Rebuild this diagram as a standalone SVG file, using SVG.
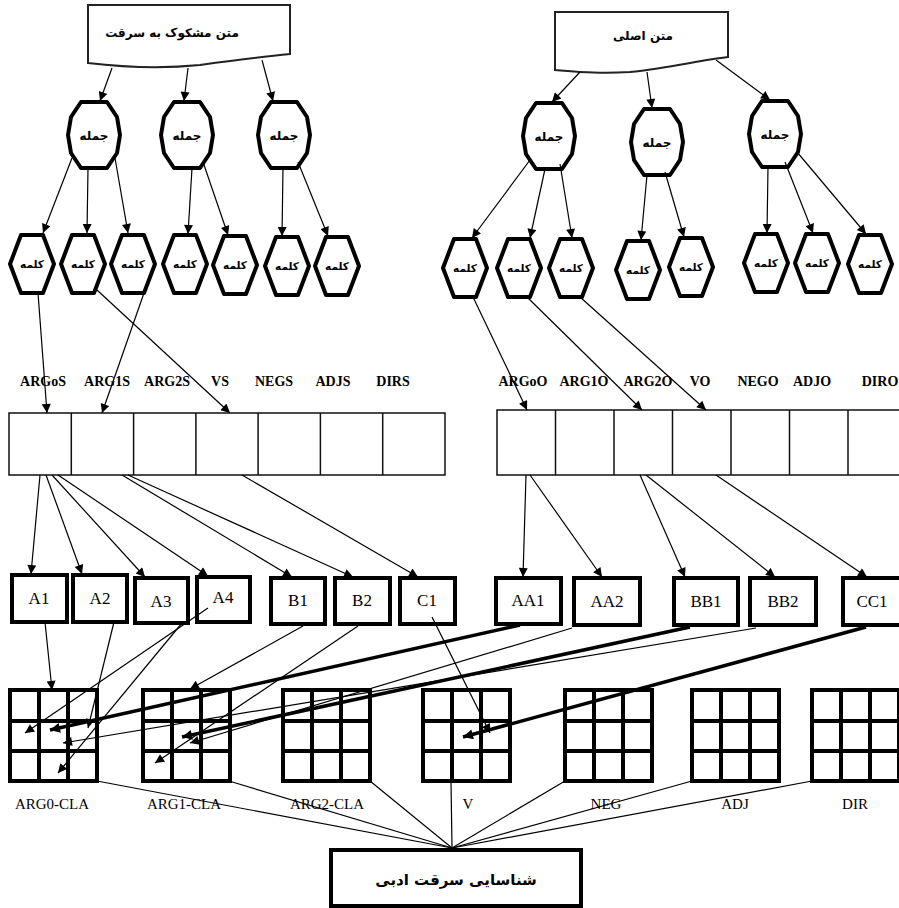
<svg xmlns="http://www.w3.org/2000/svg" xmlns:xlink="http://www.w3.org/1999/xlink" width="899" height="908" viewBox="0 0 899 908">
<style>
.doc{fill:#fff;stroke:#222;stroke-width:2}
.oct,.hex{fill:#fff;stroke:#000;stroke-width:4;stroke-linejoin:round}
.ar{font-family:"DejaVu Sans",sans-serif;font-weight:bold;text-anchor:middle;fill:#000}
.lab{font-family:"Liberation Serif",serif;font-size:14px;font-weight:bold;text-anchor:middle}
.cell{fill:#fff;stroke:#111;stroke-width:1.5}
.box{fill:#fff;stroke:#000;stroke-width:4}
.bl{font-family:"Liberation Serif",serif;font-size:17px;text-anchor:middle}
.gl{font-family:"Liberation Serif",serif;font-size:15px;text-anchor:middle}
.c{stroke:#000;stroke-width:1.2;fill:none;marker-end:url(#ah)}
.ck{stroke:#000;stroke-width:3.5;fill:none;marker-end:url(#ahk)}
.p{stroke:#000;stroke-width:1.2;fill:none}
.gr{fill:none;stroke:#000;stroke-width:4}
</style>
<defs>
<marker id="ah" viewBox="0 0 10 10" refX="10" refY="5" markerWidth="11" markerHeight="9" markerUnits="userSpaceOnUse" orient="auto"><path d="M0,0 L10,5 L0,10 z" fill="#000"/></marker>
<marker id="ahk" viewBox="0 0 10 10" refX="10" refY="5" markerWidth="13" markerHeight="10" markerUnits="userSpaceOnUse" orient="auto"><path d="M0,0 L10,5 L0,10 z" fill="#000"/></marker>
<polygon id="octShape" points="-13,-33 13,-33 23,-18 26,0 23,18 13,33 -13,33 -23,18 -26,0 -23,-18"/>
<polygon id="hexShape" points="-11,-29 11,-29 22,0 11,29 -11,29 -22,0"/>
<g id="grid3x3">
<rect x="0" y="0" width="87" height="91" fill="#fff"/>
<path d="M0,0 H87 V91 H0 Z M29,0 V91 M58,0 V91 M0,31 H87 M0,61 H87"/>
</g>
</defs>

<!-- source documents -->
<g id="doc-suspect">
<path class="doc" d="M88,5 H290 V54 C260,57 230,61 200,65 C170,68 130,68 88,63 Z"/>
<text class="ar" x="172" y="37" font-size="12">متن مشکوک به سرقت</text>
</g>
<g id="doc-original">
<path class="doc" d="M555,12 H728 V57 C700,60 670,68 630,72 C600,74 580,72 555,70 Z"/>
<text class="ar" x="643" y="40" font-size="12">متن اصلی</text>
</g>

<!-- sentences -->
<g id="sent-s1"><use xlink:href="#octShape" class="oct" x="94" y="135"/><text class="ar" x="94" y="140" font-size="12">جمله</text></g>
<g id="sent-s2"><use xlink:href="#octShape" class="oct" x="187" y="135"/><text class="ar" x="187" y="140" font-size="12">جمله</text></g>
<g id="sent-s3"><use xlink:href="#octShape" class="oct" x="284" y="135"/><text class="ar" x="284" y="140" font-size="12">جمله</text></g>
<g id="sent-o1"><use xlink:href="#octShape" class="oct" x="549" y="136"/><text class="ar" x="549" y="141" font-size="12">جمله</text></g>
<g id="sent-o2"><use xlink:href="#octShape" class="oct" x="657" y="142"/><text class="ar" x="657" y="147" font-size="12">جمله</text></g>
<g id="sent-o3"><use xlink:href="#octShape" class="oct" x="775" y="134"/><text class="ar" x="775" y="139" font-size="12">جمله</text></g>

<!-- words -->
<g id="word-s1"><use xlink:href="#hexShape" class="hex" x="32" y="264"/><text class="ar" x="32" y="268" font-size="10.5">کلمه</text></g>
<g id="word-s2"><use xlink:href="#hexShape" class="hex" x="83" y="264"/><text class="ar" x="83" y="268" font-size="10.5">کلمه</text></g>
<g id="word-s3"><use xlink:href="#hexShape" class="hex" x="133" y="264"/><text class="ar" x="133" y="268" font-size="10.5">کلمه</text></g>
<g id="word-s4"><use xlink:href="#hexShape" class="hex" x="185" y="264"/><text class="ar" x="185" y="268" font-size="10.5">کلمه</text></g>
<g id="word-s5"><use xlink:href="#hexShape" class="hex" x="235" y="265"/><text class="ar" x="235" y="269" font-size="10.5">کلمه</text></g>
<g id="word-s6"><use xlink:href="#hexShape" class="hex" x="287" y="266"/><text class="ar" x="287" y="270" font-size="10.5">کلمه</text></g>
<g id="word-s7"><use xlink:href="#hexShape" class="hex" x="337" y="266"/><text class="ar" x="337" y="270" font-size="10.5">کلمه</text></g>
<g id="word-o1"><use xlink:href="#hexShape" class="hex" x="465" y="268"/><text class="ar" x="465" y="272" font-size="10.5">کلمه</text></g>
<g id="word-o2"><use xlink:href="#hexShape" class="hex" x="519" y="268"/><text class="ar" x="519" y="272" font-size="10.5">کلمه</text></g>
<g id="word-o3"><use xlink:href="#hexShape" class="hex" x="571" y="268"/><text class="ar" x="571" y="272" font-size="10.5">کلمه</text></g>
<g id="word-o4"><use xlink:href="#hexShape" class="hex" x="638" y="270"/><text class="ar" x="638" y="274" font-size="10.5">کلمه</text></g>
<g id="word-o5"><use xlink:href="#hexShape" class="hex" x="691" y="267"/><text class="ar" x="691" y="271" font-size="10.5">کلمه</text></g>
<g id="word-o6"><use xlink:href="#hexShape" class="hex" x="766" y="263"/><text class="ar" x="766" y="267" font-size="10.5">کلمه</text></g>
<g id="word-o7"><use xlink:href="#hexShape" class="hex" x="817" y="263"/><text class="ar" x="817" y="267" font-size="10.5">کلمه</text></g>
<g id="word-o8"><use xlink:href="#hexShape" class="hex" x="870" y="264"/><text class="ar" x="870" y="268" font-size="10.5">کلمه</text></g>

<!-- role labels -->
<g id="roles-suspect">
<text class="lab" x="43" y="386">ARGoS</text>
<text class="lab" x="107" y="386">ARG1S</text>
<text class="lab" x="167" y="386">ARG2S</text>
<text class="lab" x="220" y="386">VS</text>
<text class="lab" x="274" y="386">NEGS</text>
<text class="lab" x="333" y="386">ADJS</text>
<text class="lab" x="393" y="386">DIRS</text>
</g>
<g id="roles-original">
<text class="lab" x="523" y="386">ARGoO</text>
<text class="lab" x="584" y="386">ARG1O</text>
<text class="lab" x="648" y="386">ARG2O</text>
<text class="lab" x="700" y="386">VO</text>
<text class="lab" x="758" y="386">NEGO</text>
<text class="lab" x="812" y="386">ADJO</text>
<text class="lab" x="880" y="386">DIRO</text>
</g>

<!-- role arrays -->
<g id="array-suspect">
<rect class="cell" x="9" y="413" width="436" height="62"/>
<path class="cell" d="M71.3,413 V475 M133.6,413 V475 M195.9,413 V475 M258.1,413 V475 M320.4,413 V475 M382.7,413 V475"/>
</g>
<g id="array-original">
<rect class="cell" x="497" y="410" width="412" height="65"/>
<path class="cell" d="M555.5,410 V475 M614,410 V475 M672.5,410 V475 M731,410 V475 M789.5,410 V475 M848,410 V475"/>
</g>

<!-- candidate boxes -->
<g id="cand-A1"><rect class="box" x="12" y="575" width="55" height="47"/><text class="bl" x="39" y="604">A1</text></g>
<g id="cand-A2"><rect class="box" x="73" y="575" width="54" height="47"/><text class="bl" x="100" y="604">A2</text></g>
<g id="cand-A3"><rect class="box" x="135" y="578" width="53" height="45"/><text class="bl" x="161" y="607">A3</text></g>
<g id="cand-A4"><rect class="box" x="197" y="577" width="53" height="45"/><text class="bl" x="223" y="603">A4</text></g>
<g id="cand-B1"><rect class="box" x="271" y="578" width="54" height="46"/><text class="bl" x="298" y="606">B1</text></g>
<g id="cand-B2"><rect class="box" x="335" y="578" width="55" height="46"/><text class="bl" x="362" y="606">B2</text></g>
<g id="cand-C1"><rect class="box" x="400" y="578" width="55" height="46"/><text class="bl" x="427" y="606">C1</text></g>
<g id="cand-AA1"><rect class="box" x="496" y="578" width="65" height="46"/><text class="bl" x="528" y="606">AA1</text></g>
<g id="cand-AA2"><rect class="box" x="574" y="578" width="66" height="47"/><text class="bl" x="607" y="607">AA2</text></g>
<g id="cand-BB1"><rect class="box" x="674" y="578" width="64" height="47"/><text class="bl" x="706" y="607">BB1</text></g>
<g id="cand-BB2"><rect class="box" x="750" y="578" width="66" height="47"/><text class="bl" x="783" y="607">BB2</text></g>
<g id="cand-CC1"><rect class="box" x="843" y="578" width="60" height="47"/><text class="bl" x="872" y="607">CC1</text></g>

<!-- classification grids -->
<g id="grid-arg0"><use xlink:href="#grid3x3" class="gr" x="10" y="690"/><text class="gl" x="52" y="809">ARG0-CLA</text></g>
<g id="grid-arg1"><use xlink:href="#grid3x3" class="gr" x="143" y="690"/><text class="gl" x="184" y="809">ARG1-CLA</text></g>
<g id="grid-arg2"><use xlink:href="#grid3x3" class="gr" x="283" y="690"/><text class="gl" x="327" y="809">ARG2-CLA</text></g>
<g id="grid-v"><use xlink:href="#grid3x3" class="gr" x="423" y="690"/><text class="gl" x="468" y="809">V</text></g>
<g id="grid-neg"><use xlink:href="#grid3x3" class="gr" x="565" y="690"/><text class="gl" x="606" y="809">NEG</text></g>
<g id="grid-adj"><use xlink:href="#grid3x3" class="gr" x="692" y="690"/><text class="gl" x="735" y="809">ADJ</text></g>
<g id="grid-dir"><use xlink:href="#grid3x3" class="gr" x="812" y="690"/><text class="gl" x="855" y="809">DIR</text></g>

<!-- connectors -->
<g id="connectors">
<!-- document to sentences -->
<path class="c" d="M112,68 L100,101"/>
<path class="c" d="M188,68 L184,101"/>
<path class="c" d="M262,60 L273,101"/>
<path class="c" d="M580,72 L552,102"/>
<path class="c" d="M647,72 L652,108"/>
<path class="c" d="M716,60 L770,100"/>
<!-- sentences to words -->
<path class="c" d="M72,158 L43,233"/>
<path class="c" d="M88,168 L87,233"/>
<path class="c" d="M115,158 L128,233"/>
<path class="c" d="M192,168 L188,234"/>
<path class="c" d="M203,162 L228,235"/>
<path class="c" d="M283,168 L282,236"/>
<path class="c" d="M298,162 L328,236"/>
<path class="c" d="M530,160 L472,238"/>
<path class="c" d="M545,169 L530,238"/>
<path class="c" d="M560,164 L572,238"/>
<path class="c" d="M647,175 L641,240"/>
<path class="c" d="M665,172 L684,237"/>
<path class="c" d="M768,167 L767,233"/>
<path class="c" d="M785,162 L813,233"/>
<path class="c" d="M797,152 L866,234"/>
<!-- words to role slots -->
<path class="c" d="M38,293 L47,413"/>
<path class="c" d="M97,290 L230,413"/>
<path class="c" d="M144,293 L102,413"/>
<path class="c" d="M473,297 L527,410"/>
<path class="c" d="M527,297 L642,410"/>
<path class="c" d="M580,297 L706,410"/>
<!-- role slots to candidates -->
<path class="c" d="M40,475 L31,574"/>
<path class="c" d="M46,475 L82,574"/>
<path class="c" d="M52,475 L145,577"/>
<path class="c" d="M58,475 L208,576"/>
<path class="c" d="M122,475 L292,577"/>
<path class="c" d="M128,475 L353,577"/>
<path class="c" d="M242,475 L418,577"/>
<path class="c" d="M526,475 L523,577"/>
<path class="c" d="M530,475 L602,577"/>
<path class="c" d="M640,475 L685,577"/>
<path class="c" d="M646,475 L775,577"/>
<path class="c" d="M716,475 L867,577"/>
<!-- suspect candidates to grids -->
<path class="c" d="M45,622 L52,690"/>
<path class="c" d="M114,622 L88,728"/>
<path class="c" d="M182,623 L58,773"/>
<path class="c" d="M208,608 L25,733"/>
<path class="c" d="M303,626 L190,689"/>
<path class="c" d="M358,626 L155,763"/>
<path class="c" d="M432,617 L490,733"/>
<!-- original candidates to grids -->
<path class="ck" d="M520,625 L50,730"/>
<path class="c" d="M572,628 L190,743"/>
<path class="ck" d="M690,627 L182,737"/>
<path class="c" d="M756,628 L63,743"/>
<path class="ck" d="M866,627 L463,737"/>
<!-- grids to decision -->
<path class="p" d="M97,781 L452,848"/>
<path class="p" d="M229,781 L452,848"/>
<path class="p" d="M370,781 L452,848"/>
<path class="p" d="M451,781 L452,848"/>
<path class="p" d="M565,781 L452,848"/>
<path class="p" d="M692,781 L452,848"/>
<path class="p" d="M812,781 L452,848"/>
</g>

<!-- decision -->
<g id="decision">
<rect class="box" x="331" y="850" width="250" height="56"/>
<text class="ar" x="456" y="885" font-size="15">شناسایی سرقت ادبی</text>
</g>
</svg>
